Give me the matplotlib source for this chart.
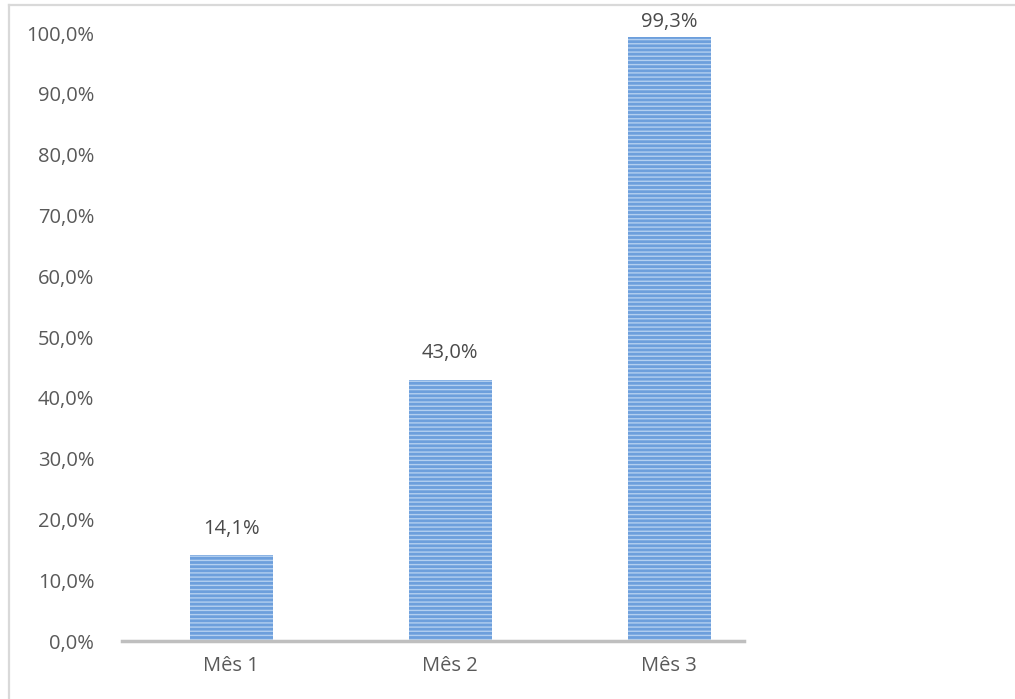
import matplotlib
matplotlib.use('Agg')
import matplotlib.pyplot as plt
from matplotlib.lines import Line2D

meses = ['Mês 1', 'Mês 2', 'Mês 3']
valores = [14.1, 43.0, 99.3]
rotulos = ['14,1%', '43,0%', '99,3%']
yticks = [0, 10, 20, 30, 40, 50, 60, 70, 80, 90, 100]

plt.rcParams['font.family'] = ['Open Sans', 'DejaVu Sans']
plt.rcParams['hatch.linewidth'] = 1.0

W, H = 1015, 699
fig = plt.figure(figsize=(W / 100, H / 100), dpi=100)
ax = fig.add_axes([122 / W, 58 / H, (778.5 - 122) / W, 608 / H])

x = range(len(meses))
ax.bar(x, valores, width=0.38, color='#6d9fdc', edgecolor='none', zorder=2)
ax.bar(x, valores, width=0.38, fill=False, edgecolor='#b3cff0',
       linewidth=0, hatch='----', zorder=3)

# labels sit above the bars, kept inside the chart area at the top
for xi, v, txt in zip(x, valores, rotulos):
    ax.text(xi, min(v + 4.3, 101.8), txt, ha='center', va='center',
            fontsize=14.5, color='#4a4a4a', clip_on=False)

ax.set_xlim(-0.5, 2.5)
ax.set_ylim(0, 100)
ax.set_yticks(yticks)
ax.set_yticklabels(['{:.1f}%'.format(t).replace('.', ',') for t in yticks])
ax.set_xticks(list(x))
ax.set_xticklabels(meses)
ax.tick_params(axis='both', length=0, labelsize=14.5, labelcolor='#595959')
ax.tick_params(axis='y', pad=20)
ax.tick_params(axis='x', pad=11)

for s in ['top', 'right', 'left']:
    ax.spines[s].set_visible(False)
ax.spines['bottom'].set_color('#bfbfbf')
ax.spines['bottom'].set_linewidth(2.5)
ax.spines['bottom'].set_bounds(-0.5, 2.5 - (778.5 - 744) / 219)
ax.spines['bottom'].set_zorder(4)

# chart area border (top and left edges)
fig.add_artist(Line2D([9 / W, 1], [1 - 4.5 / H, 1 - 4.5 / H], color='#d9d9d9', lw=1.6))
fig.add_artist(Line2D([9 / W, 9 / W], [0, 1 - 4.5 / H], color='#d9d9d9', lw=1.6))

fig.savefig('out.png', dpi=100, facecolor='white')
